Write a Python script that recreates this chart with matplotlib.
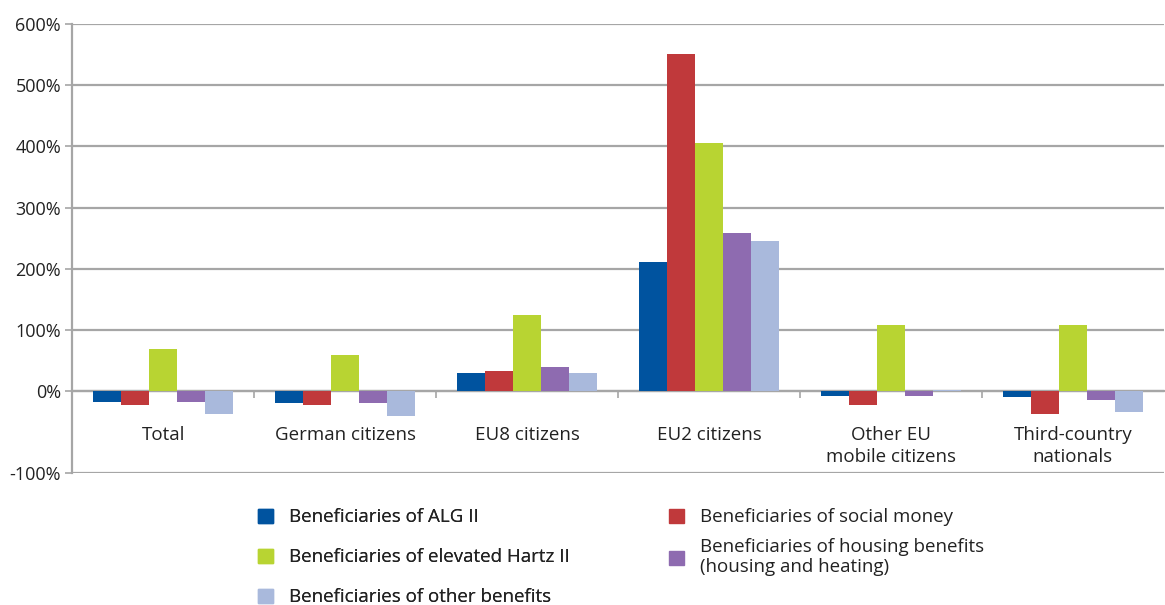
import matplotlib.pyplot as plt
import numpy as np
from matplotlib.patches import Patch

categories = ['Total', 'German citizens', 'EU8 citizens', 'EU2 citizens',
              'Other EU\nmobile citizens', 'Third-country\nnationals']
series = ['Beneficiaries of ALG II', 'Beneficiaries of social money',
          'Beneficiaries of elevated Hartz II',
          'Beneficiaries of housing benefits\n(housing and heating)',
          'Beneficiaries of other benefits']
values = [
    [-13, -15, 30, 211, -6, -7],      # ALG II
    [-17, -17, 33, 551, -17, -28],    # social money
    [69, 59, 124, 406, 108, 108],     # elevated Hartz II
    [-13, -15, 39, 258, -6, -11],     # housing benefits
    [-28, -30, 30, 245, 2, -26],      # other benefits
]
colors = ['#00539F', '#C0393B', '#B8D432', '#8E6BB0', '#A9B9DC']
yticks = [-100, 0, 100, 200, 300, 400, 500, 600]

# the source chart stretches the negative part of the axis
k = 82 / 61.0
def fwd(y):
    y = np.asarray(y, dtype=float)
    return np.where(y < 0, y * k, y)
def inv(y):
    y = np.asarray(y, dtype=float)
    return np.where(y < 0, y / k, y)

plt.rcParams['font.family'] = ['Open Sans', 'DejaVu Sans']
fig = plt.figure(figsize=(11.65, 6.05), dpi=100)
ax = fig.add_axes([0.062, 0.218, 0.937, 0.742])
ax.set_yscale('function', functions=(fwd, inv))

x = np.arange(len(categories))
w = 0.154
for i, (vals, c) in enumerate(zip(values, colors)):
    ax.bar(x + (i - 2) * w, vals, w, color=c, zorder=3)

ax.set_xlim(-0.5, len(categories) - 0.5)
ax.set_ylim(-100, 600)
ax.set_yticks(yticks)
ax.set_yticklabels([f'{t}%' for t in yticks], fontsize=13, color='#222222')
ax.yaxis.grid(True, color='#a6a6a6', linewidth=1.6, zorder=0)
ax.tick_params(axis='y', length=5, width=1.2, color='#a6a6a6', pad=3)

for s in ['top', 'right']:
    ax.spines[s].set_visible(False)
ax.spines['left'].set_color('#a6a6a6')
ax.spines['left'].set_linewidth(1.6)
ax.spines['bottom'].set_position(('data', 0))
ax.spines['bottom'].set_color('#a6a6a6')
ax.spines['bottom'].set_linewidth(1.6)
ax.set_xticks(x[1:] - 0.5)
ax.set_xticklabels([])
ax.tick_params(axis='x', length=5, width=1.2, color='#a6a6a6', direction='out')

for xi, lab in zip(x, categories):
    ax.annotate(lab, xy=(xi, 0), xytext=(0, -35), textcoords='offset pixels',
                ha='center', va='top', fontsize=13.5, color='#222222',
                linespacing=1.3)

handles = [Patch(color=c) for c in colors]
leg_kw = dict(loc='upper left', frameon=False, fontsize=13.5, handlelength=0.78,
              handleheight=0.78, handletextpad=0.85, labelcolor='#222222',
              borderaxespad=0)
leg1 = fig.legend([handles[0], handles[2], handles[4]],
                  [series[0], series[2], series[4]],
                  bbox_to_anchor=(0.215, 0.172), labelspacing=1.17, **leg_kw)
fig.add_artist(leg1)
fig.legend([handles[1], handles[3]], [series[1], series[3]],
           bbox_to_anchor=(0.568, 0.172), labelspacing=0.6, **leg_kw)

fig.savefig('out.png', dpi=100)
